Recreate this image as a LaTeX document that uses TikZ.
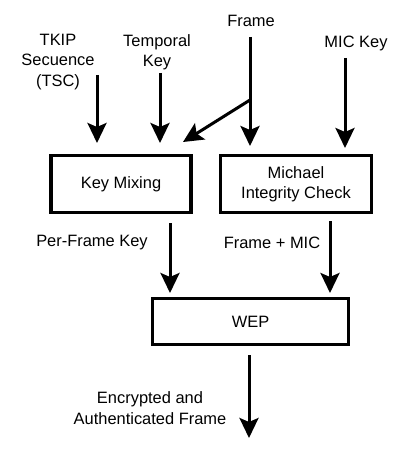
\documentclass[tikz,border=0pt]{standalone}
\usepackage{fontspec}
\setmainfont{Liberation Sans}
\usetikzlibrary{arrows.meta}
\begin{document}
\begin{tikzpicture}[x=1bp,y=-1bp,
  box/.style={draw,line width=3.3bp,minimum height=57bp,inner sep=0pt,align=center,font=\fontsize{16.5}{20.5}\selectfont},
  lbl/.style={align=center,inner sep=0pt,font=\fontsize{16.5}{20.5}\selectfont},
  arr/.style={line width=3bp,-{Stealth[width=19bp,length=20bp,inset=4bp]}}]
\useasboundingbox (0,0) rectangle (404,450);
% boxes
\node[box,minimum width=140bp] (km) at (121,184) {Key Mixing};
\node[box,minimum width=151bp] (mic) at (296,184) {Michael\\Integrity Check};
\node[box,minimum width=196bp,minimum height=46bp] (wep) at (250.5,321.5) {WEP};
% labels
\node[lbl] (tsc) at (58,62) {TKIP\\Secuence\\(TSC)};
\node[lbl] (tk) at (157,52.5) {Temporal\\Key};
\node[lbl] (fr) at (251,21) {Frame};
\node[lbl] (mk) at (356,43) {MIC Key};
\node[lbl] (pfk) at (92,243) {Per-Frame Key};
\node[lbl] (fmic) at (272,243) {Frame + MIC};
\node[lbl] (eaf) at (150,408) {Encrypted and\\Authenticated Frame};
% connector ends
\coordinate (a1) at (97,75);   \coordinate (b1) at (97,143);
\coordinate (a2) at (160,73);  \coordinate (b2) at (160,143);
\coordinate (a3) at (250,37);  \coordinate (b3) at (250,146);
\coordinate (a4) at (345,58);  \coordinate (b4) at (345,148);
\coordinate (j) at (250,100);  \coordinate (b5) at (183,142);
\coordinate (a6) at (170,223); \coordinate (b6) at (170,293);
\coordinate (a7) at (330,221); \coordinate (b7) at (330,293);
\coordinate (a8) at (249,355); \coordinate (b8) at (249,438);
\draw[arr] (a1) -- (b1);
\draw[arr] (a2) -- (b2);
\draw[arr] (a3) -- (b3);
\draw[arr] (a4) -- (b4);
\draw[arr] (j) -- (b5);
\draw[arr] (a6) -- (b6);
\draw[arr] (a7) -- (b7);
\draw[arr] (a8) -- (b8);
\end{tikzpicture}
\end{document}
